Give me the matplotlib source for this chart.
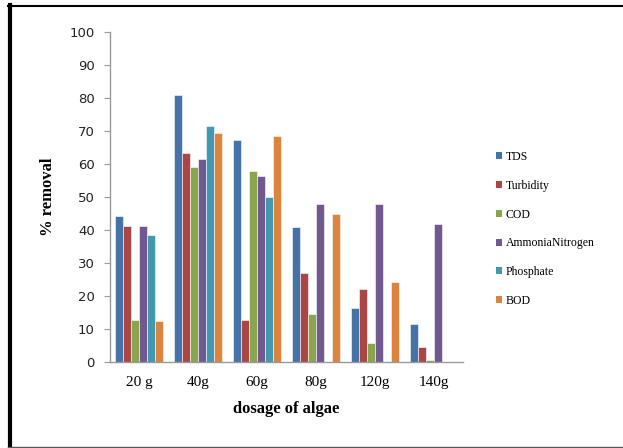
import numpy as np
import matplotlib
matplotlib.use("Agg")
import matplotlib.pyplot as plt
from matplotlib.patches import Patch
from matplotlib.lines import Line2D

dosages = ['20 g', '40g', '60g', '80g', '120g', '140g']
series_names = ['TDS', 'Turbidity', 'COD', 'AmmoniaNitrogen', 'Phosphate', 'BOD']

tds = [44.2, 81.0, 67.4, 40.8, 16.5, 11.6]
turbidity = [41.2, 63.2, 12.8, 26.9, 22.2, 4.4]
cod = [12.8, 59.0, 58.0, 14.6, 5.9, 0.6]
ammonia_nitrogen = [41.2, 61.5, 56.5, 48.0, 48.0, 41.9]
phosphate = [38.6, 71.6, 49.9, 0, 0, 0]
bod = [12.4, 69.3, 68.6, 44.9, 24.1, 0]

colors = ['#4572A7', '#AA4643', '#89A54E', '#71588F', '#4198AF', '#DB843D']

all_series = [tds, turbidity, cod, ammonia_nitrogen, phosphate, bod]

fig = plt.figure(figsize=(6.23, 4.48), dpi=100)
ax = fig.add_axes([109.5 / 623, 86 / 448, 353.5 / 623, 330 / 448])

x = np.arange(len(dosages))
w = 1 / 7.36
for j, (vals, name, c) in enumerate(zip(all_series, series_names, colors)):
    ax.bar(x + (j - 2.5) * w, vals, width=w, color=c, edgecolor='#ffffff',
           linewidth=0.4, label=name, zorder=2)

ax.set_xlim(-0.5, len(dosages) - 0.5)
ax.set_ylim(0, 100)
ax.set_yticks(range(0, 101, 10))
ax.set_xticks(x)
ax.set_xticklabels(dosages, family='Liberation Serif', fontsize=11)
for lab in ax.get_yticklabels():
    lab.set_family('DejaVu Sans')
    lab.set_fontsize(9.5)
    lab.set_color('#222222')

for side in ['top', 'right']:
    ax.spines[side].set_visible(False)
for side in ['left', 'bottom']:
    ax.spines[side].set_color('#999999')
    ax.spines[side].set_linewidth(1.0)
ax.tick_params(axis='y', direction='out', length=4, color='#999999', pad=6.5)
ax.tick_params(axis='x', length=0, pad=10)

ax.set_xlabel('dosage of algae', family='Liberation Serif', fontweight='bold',
              fontsize=12, labelpad=9)
ax.set_ylabel('% removal', family='Liberation Serif', fontweight='bold',
              fontsize=12, labelpad=10)

handles = [Patch(facecolor=c, edgecolor='none') for c in colors]
fig.legend(handles, series_names, loc='upper left',
           bbox_to_anchor=(496 / 623, 1 - 151 / 448), frameon=False,
           prop={'family': 'Liberation Serif', 'size': 8.5},
           handlelength=0.55, handleheight=0.55, handletextpad=0.25,
           labelspacing=1.42, borderaxespad=0, borderpad=0)

# page border around the chart
fig.add_artist(Line2D([10 / 623, 10 / 623], [1 - 5 / 448, 1 - 447 / 448],
                      transform=fig.transFigure, color='black', linewidth=3))
fig.add_artist(Line2D([8 / 623, 1.0], [1 - 6 / 448, 1 - 6 / 448],
                      transform=fig.transFigure, color='black', linewidth=1.5))
fig.add_artist(Line2D([8 / 623, 1.0], [1 - 446.5 / 448, 1 - 446.5 / 448],
                      transform=fig.transFigure, color='#555555', linewidth=1))

fig.savefig('out.png', dpi=100)
